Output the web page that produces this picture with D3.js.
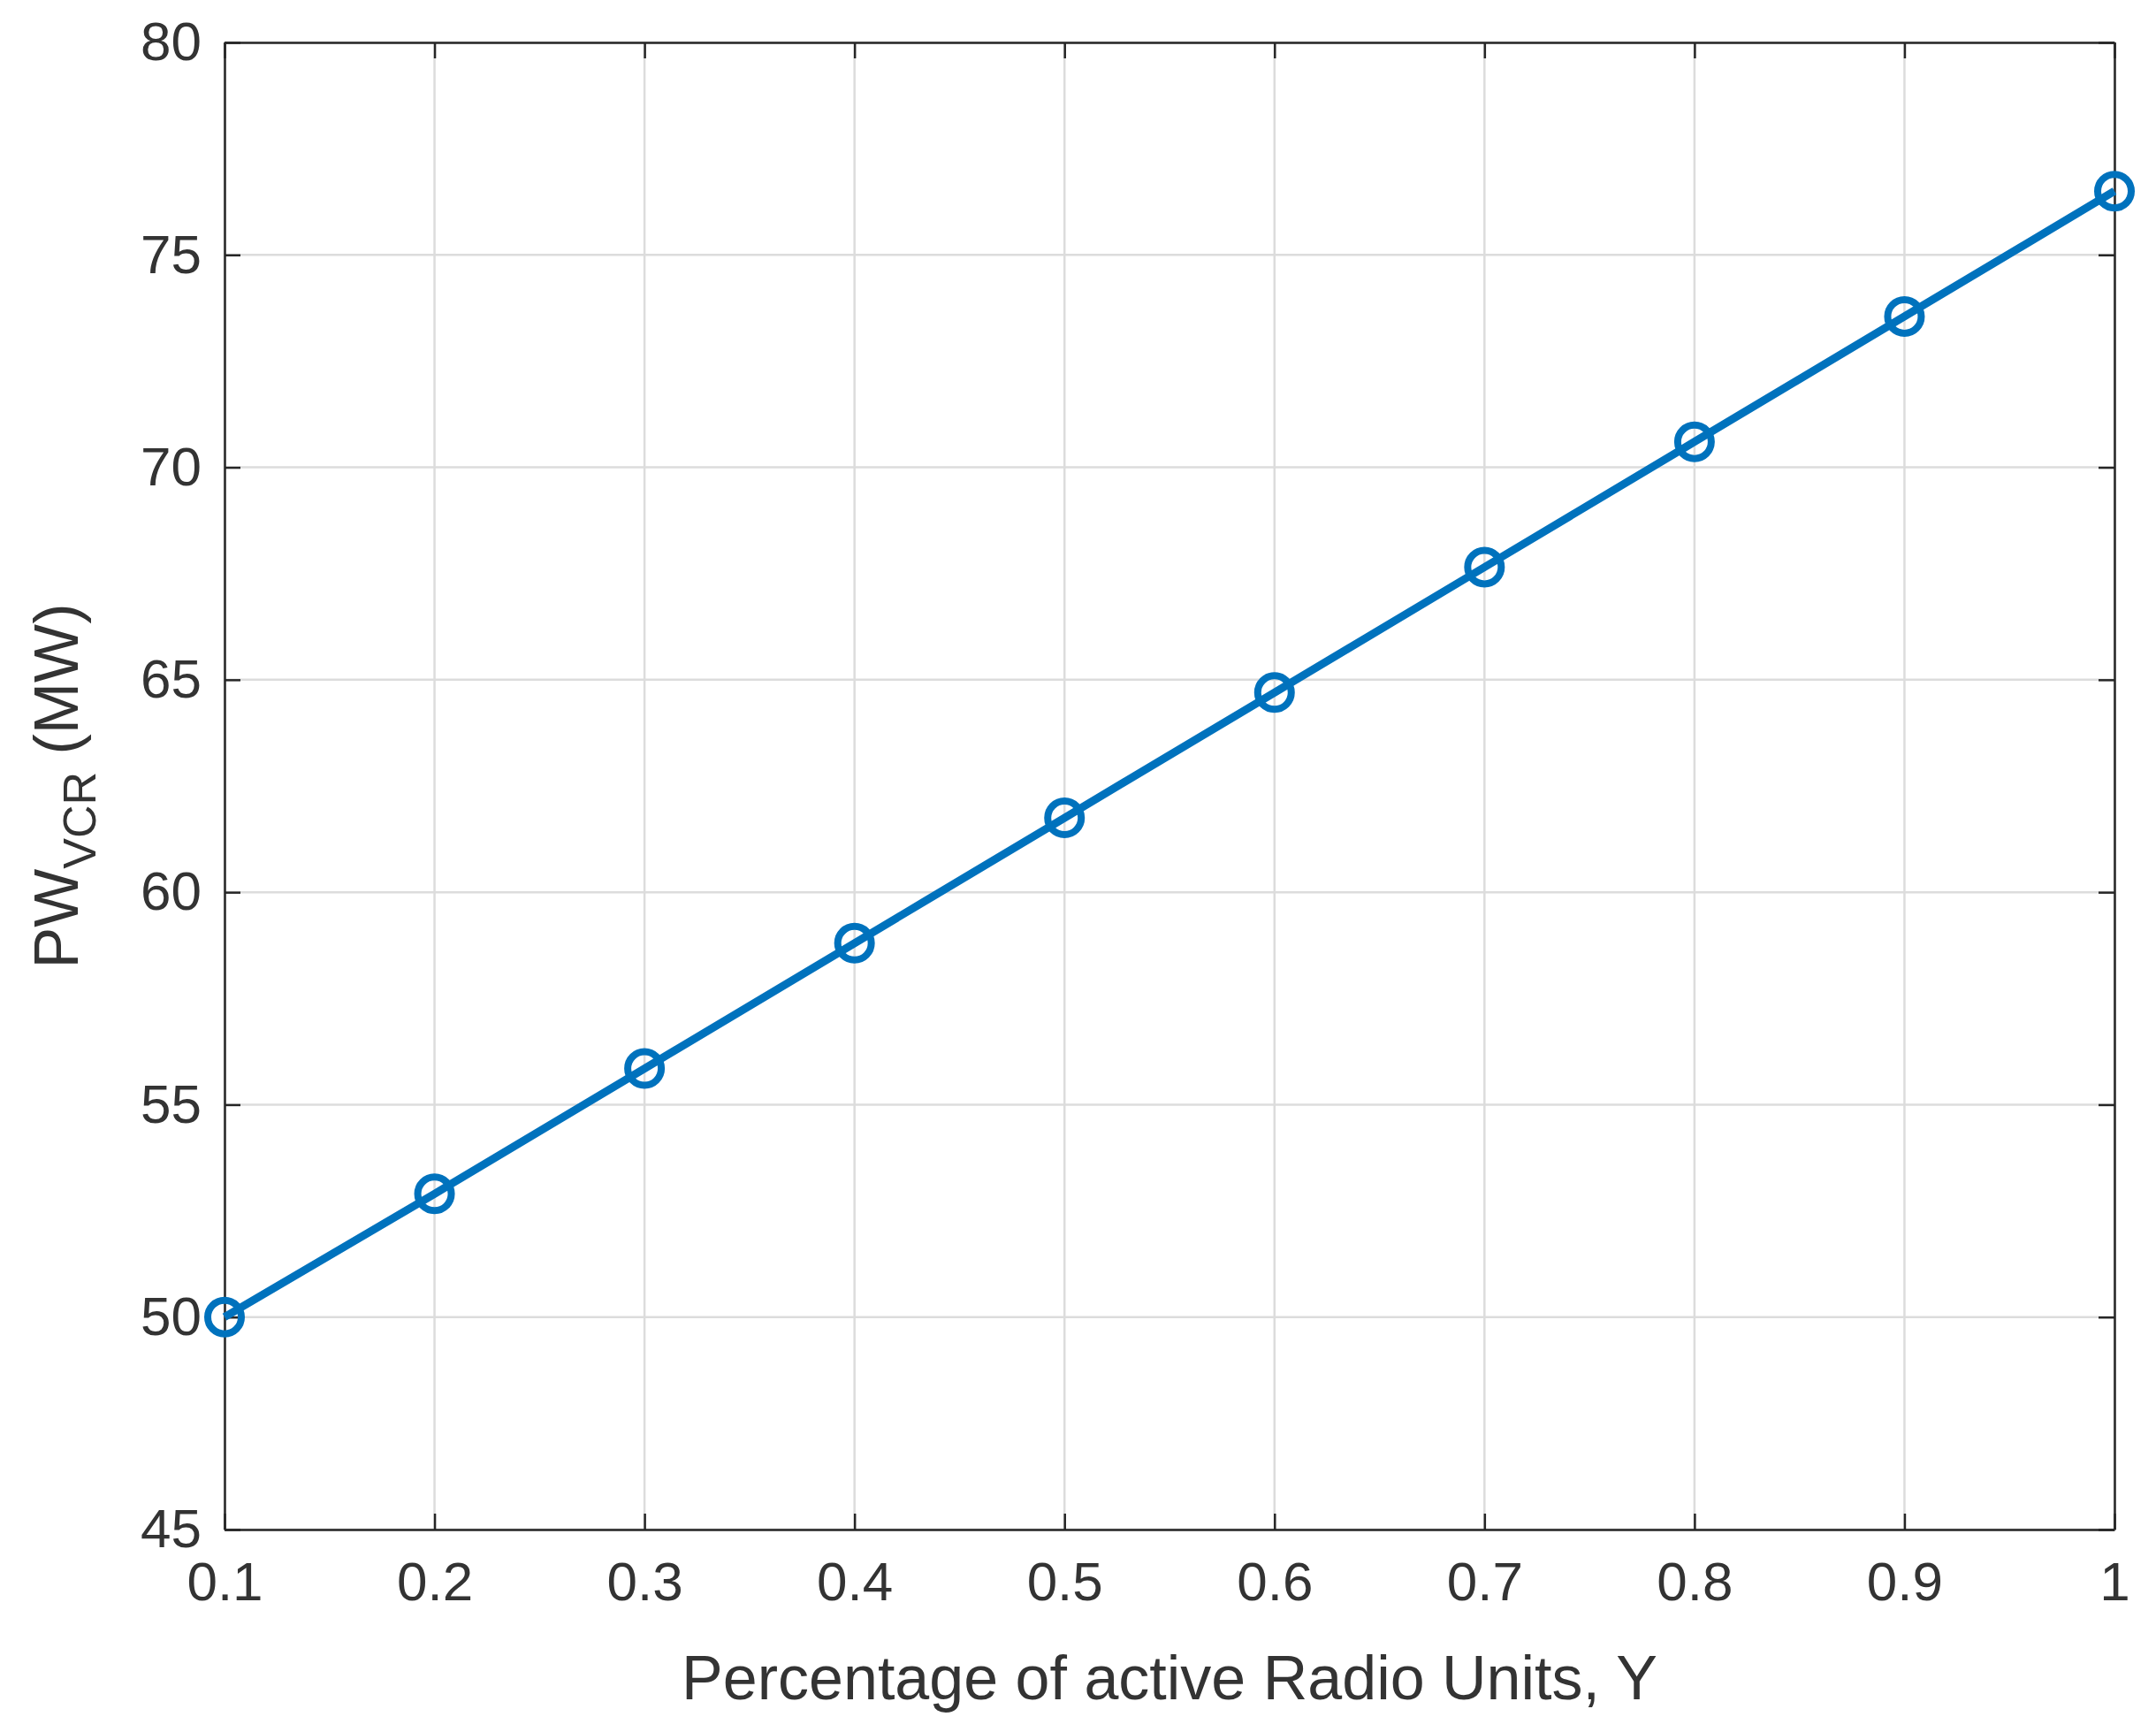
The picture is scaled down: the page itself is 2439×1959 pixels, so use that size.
<!DOCTYPE html>
<html><head><meta charset="utf-8">
<script src="https://cdn.jsdelivr.net/npm/d3@7"></script>
<style>body{margin:0;background:#fff}</style></head>
<body><svg id="c" width="2439" height="1959"></svg>
<script>
const xValues = [0.1,0.2,0.3,0.4,0.5,0.6,0.7,0.8,0.9,1.0];
const yValues = [50.0,52.9,55.85,58.8,61.75,64.7,67.65,70.6,73.55,76.5];
const xTicks = [0.1,0.2,0.3,0.4,0.5,0.6,0.7,0.8,0.9,1];
const yTicks = [45,50,55,60,65,70,75,80];

const svg = d3.select("#c");
const L=254,R=2392,T=48,B=1730;
const x=d3.scaleLinear().domain([0.1,1]).range([L,R]);
const y=d3.scaleLinear().domain([45,80]).range([B,T]);
const font="Helvetica, Arial, 'Liberation Sans', sans-serif";
const g=svg.append("g");
g.selectAll(".gx").data(xTicks).join("line").attr("x1",d=>x(d)).attr("x2",d=>x(d)).attr("y1",T).attr("y2",B).attr("stroke","#dcdcdc").attr("stroke-width",2.5);
g.selectAll(".gy").data(yTicks).join("line").attr("y1",d=>y(d)).attr("y2",d=>y(d)).attr("x1",L).attr("x2",R).attr("stroke","#dcdcdc").attr("stroke-width",2.5);
const xa=svg.append("g").attr("transform",`translate(0,${B})`).call(d3.axisBottom(x).tickValues(xTicks).tickFormat(d=>d===1?"1":d3.format(".1f")(d)).tickSizeInner(-18).tickSizeOuter(0).tickPadding(36));
const xt=svg.append("g").attr("transform",`translate(0,${T})`).call(d3.axisTop(x).tickValues(xTicks).tickFormat("").tickSizeInner(-18).tickSizeOuter(0));
const ya=svg.append("g").attr("transform",`translate(${L},0)`).call(d3.axisLeft(y).tickValues(yTicks).tickSizeInner(-18).tickSizeOuter(0).tickPadding(26));
const yr=svg.append("g").attr("transform",`translate(${R},0)`).call(d3.axisRight(y).tickValues(yTicks).tickFormat("").tickSizeInner(-18).tickSizeOuter(0));
[xa,xt,ya,yr].forEach(a=>{a.selectAll("path,line").attr("stroke","#262626").attr("stroke-width",2.5);a.selectAll("text").attr("font-family",font).attr("font-size",62).attr("fill","#333");});
svg.append("path").datum(xValues.map((v,i)=>[v,yValues[i]])).attr("fill","none").attr("stroke","#0072BD").attr("stroke-width",9)
 .attr("d",d3.line().x(d=>x(d[0])).y(d=>y(d[1])));
svg.selectAll(".m").data(xValues).join("circle").attr("cx",d=>x(d)).attr("cy",(d,i)=>y(yValues[i])).attr("r",19).attr("fill","none").attr("stroke","#0072BD").attr("stroke-width",8);
svg.append("text").attr("x",(L+R)/2).attr("y",1922).attr("text-anchor","middle").attr("font-family",font).attr("font-size",70).attr("fill","#333").text("Percentage of active Radio Units, Y");
const yl=svg.append("text").attr("transform",`translate(88,${(T+B)/2}) rotate(-90)`).attr("text-anchor","middle").attr("font-family",font).attr("font-size",70).attr("fill","#333");
yl.append("tspan").text("PW");
yl.append("tspan").attr("font-size",52).attr("dy",20).text("VCR");
yl.append("tspan").attr("dy",-20).text(" (MW)");
</script></body></html>
